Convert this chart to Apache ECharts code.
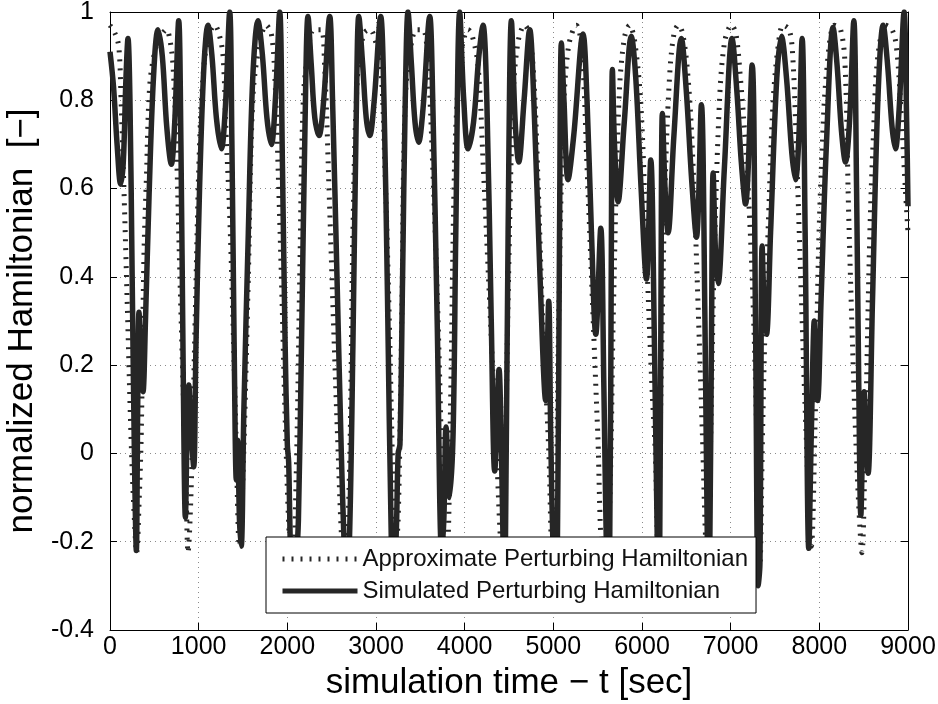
<!DOCTYPE html>
<html>
<head>
<meta charset="utf-8">
<script src="https://cdn.jsdelivr.net/npm/echarts@6/dist/echarts.min.js"></script>
<style>html,body{margin:0;padding:0;background:#fff}#c{width:938px;height:704px}</style>
</head>
<body>
<div id="c"></div>
<script>
// simulated perturbing Hamiltonian: [t (sec), normalized value]
const simT = [0,40,80,120,150,180,203,225,250,275,297,312,327,350,372,400,440,490,541,590,640,692,730,775,800,825,850,870,888,915,944,970,1010,1060,1105,1150,1200,1256,1300,1350,1375,1400,1425,1440,1460,1480,1510,1560,1610,1669,1720,1770,1820,1865,1914,1945,1975,2000,2015,2040,2070,2100,2125,2160,2200,2233,2270,2310,2357,2410,2478,2510,2560,2609,2640,2665,2700,2740,2780,2806,2850,2890,2929,2980,3053,3090,3130,3173,3200,3230,3250,3270,3300,3330,3361,3400,3440,3480,3530,3606,3640,3690,3740,3765,3790,3830,3870,3900,3944,3990,4038,4100,4160,4207,4250,4300,4339,4388,4410,4433,4445,4460,4490,4527,4570,4610,4670,4734,4780,4850,4914,4948,4970,4997,5020,5046,5070,5091,5120,5166,5230,5335,5380,5430,5479,5535,5570,5599,5615,5636,5655,5666,5690,5730,5800,5880,5930,5990,6050,6099,6140,6174,6185,6200,6215,6230,6260,6294,6360,6444,6500,6560,6614,6670,6710,6738,6750,6765,6785,6802,6830,6858,6930,7016,7070,7120,7167,7242,7280,7310,7330,7355,7380,7404,7450,7520,7573,7630,7690,7731,7770,7806,7840,7881,7910,7943,7962,7980,8020,8080,8155,8200,8250,8295,8340,8389,8420,8445,8468,8490,8505,8525,8550,8600,8660,8720,8770,8820,8858,8900,8956,8985,9000];
const simV = [0.91,0.83,0.70,0.61,0.66,0.85,0.94,0.80,0.40,0.0,-0.22,0.10,0.32,0.20,0.14,0.30,0.58,0.85,0.96,0.90,0.74,0.655,0.75,0.98,0.70,0.20,-0.145,0.05,0.155,0.05,-0.03,0.25,0.60,0.88,0.97,0.90,0.76,0.69,0.78,1.0,0.70,0.25,-0.06,0.03,-0.15,-0.21,0.10,0.50,0.85,0.98,0.90,0.76,0.70,0.80,1.0,0.65,0.25,0.02,-0.02,-0.25,-0.32,-0.25,-0.15,0.25,0.75,0.99,0.88,0.76,0.72,0.80,0.99,0.80,0.40,0.0,-0.2,-0.3,-0.2,0.25,0.80,0.99,0.88,0.76,0.72,0.80,0.99,0.80,0.35,-0.2,-0.3,-0.17,0.0,0.02,0.40,0.80,1.0,0.88,0.75,0.705,0.78,0.99,0.80,0.30,-0.22,-0.15,0.06,-0.1,0.05,0.50,1.0,0.80,0.69,0.75,0.90,0.97,0.80,0.30,-0.04,0.19,0.05,-0.2,-0.3,-0.2,0.50,0.98,0.75,0.66,0.80,0.96,0.80,0.40,0.12,0.345,0.05,-0.22,-0.3,-0.2,0.50,0.93,0.80,0.62,0.72,0.95,0.80,0.50,0.27,0.51,0.15,-0.22,-0.3,-0.2,0.50,0.87,0.70,0.57,0.75,0.945,0.85,0.60,0.395,0.665,0.25,-0.22,-0.3,-0.2,0.40,0.77,0.60,0.50,0.72,0.94,0.82,0.62,0.49,0.79,0.30,-0.22,-0.3,-0.2,0.30,0.635,0.45,0.385,0.65,0.94,0.82,0.66,0.565,0.88,0.30,-0.3,-0.25,0.47,0.32,0.27,0.50,0.85,0.945,0.85,0.68,0.62,0.72,0.94,0.50,-0.215,0.05,0.30,0.15,0.12,0.35,0.70,0.965,0.88,0.73,0.66,0.75,0.98,0.60,0.15,-0.14,0.05,0.14,0.05,-0.045,0.35,0.80,0.97,0.88,0.74,0.69,0.78,1.0,0.75,0.56];
// approximate perturbing Hamiltonian
const apxT = [0,60,100,125,160,200,240,275,300,330,353,383,410,447,504,560,636,673,710,748,786,820,855,880,920,960,1010,1060,1120,1180,1230,1275,1310,1350,1390,1420,1460,1500,1560,1610,1680,1762,1820,1860,1900,1940,1980,2030,2060,2100,2140,2180,2240,2300,2380,2420,2470,2520,2570,2620,2650,2700,2740,2790,2860,2930,2970,3050,3100,3150,3190,3220,3250,3290,3330,3400,3460,3530,3580,3640,3700,3740,3770,3800,3840,3880,3920,3970,4040,4080,4150,4210,4280,4360,4420,4450,4490,4545,4600,4677,4730,4780,4830,4880,4950,4990,5020,5060,5110,5170,5260,5320,5380,5440,5500,5560,5620,5680,5740,5800,5860,5920,5990,6050,6110,6150,6180,6210,6260,6310,6360,6410,6460,6520,6570,6630,6680,6730,6770,6810,6870,6930,7010,7060,7110,7160,7210,7260,7300,7330,7360,7390,7430,7480,7540,7592,7660,7700,7740,7790,7850,7910,7950,7990,8030,8080,8170,8240,8290,8330,8390,8440,8480,8520,8570,8610,8660,8750,8820,8870,8920,8970,9000];
const apxV = [0.97,0.95,0.92,0.80,0.58,0.30,0.02,-0.15,-0.225,-0.10,0.05,0.45,0.62,0.83,0.91,0.94,0.96,0.94,0.88,0.70,0.42,0.18,-0.05,-0.225,-0.05,0.30,0.70,0.88,0.95,0.97,0.95,0.90,0.72,0.54,0.28,0.05,-0.21,-0.05,0.40,0.80,0.92,0.97,0.95,0.85,0.62,0.35,0.05,-0.22,-0.25,-0.05,0.40,0.80,0.92,0.96,0.96,0.88,0.60,0.30,0.02,-0.22,-0.25,-0.05,0.50,0.85,0.95,0.96,0.95,0.88,0.65,0.30,-0.05,-0.22,-0.15,0.30,0.80,0.93,0.96,0.96,0.90,0.65,0.30,0.0,-0.22,-0.22,0.10,0.60,0.82,0.92,0.96,0.95,0.88,0.65,0.35,0.0,-0.22,-0.1,0.35,0.80,0.93,0.97,0.95,0.85,0.60,0.30,0.0,-0.22,-0.2,0.30,0.75,0.92,0.97,0.92,0.65,0.35,0.05,-0.22,-0.2,0.35,0.80,0.94,0.97,0.93,0.78,0.46,0.16,0.0,-0.22,0.10,0.60,0.85,0.95,0.97,0.95,0.85,0.68,0.35,0.05,-0.22,0.0,0.40,0.78,0.93,0.97,0.95,0.85,0.72,0.55,0.30,0.0,-0.25,0.05,0.30,0.55,0.80,0.93,0.97,0.96,0.90,0.70,0.40,0.05,-0.21,0.05,0.45,0.68,0.86,0.97,0.96,0.88,0.55,0.15,-0.10,-0.225,0.05,0.50,0.72,0.90,0.97,0.96,0.92,0.78,0.60,0.50];
const xTicks = [0,1000,2000,3000,4000,5000,6000,7000,8000,9000];
const yTicks = [-0.4,-0.2,0,0.2,0.4,0.6,0.8,1];
const seriesNames = ['Approximate Perturbing Hamiltonian','Simulated Perturbing Hamiltonian'];

const font = "'Liberation Sans', Arial, Helvetica, sans-serif";
const ink = '#262626';
const chart = echarts.init(document.getElementById('c'), null, {renderer:'canvas'});
const gridLine = {show:true, lineStyle:{color:'#8a8a8a', width:1, type:[1,4]}};
const baseX = {type:'value', min:xTicks[0], max:xTicks[xTicks.length-1], interval:1000};
const baseY = {type:'value', min:yTicks[0], max:yTicks[yTicks.length-1], interval:0.2};
const boxLine = {show:true, onZero:false, lineStyle:{color:'#000', width:1}};
const boxTick = {show:true, inside:true, length:7, lineStyle:{color:'#000'}};
chart.setOption({
  animation:false,
  backgroundColor:'#fff',
  grid:{left:110, right:30, top:12, bottom:74, show:false, outerBoundsMode:'none', containLabel:false},
  legend:{
    orient:'vertical', left:266, top:537,
    data:seriesNames,
    backgroundColor:'#fff', borderColor:'#000', borderWidth:1, borderRadius:0,
    padding:[10,8,10,14], itemGap:8, itemWidth:75, itemHeight:25,
    itemStyle:{opacity:0},
    lineStyle:{width:5},
    textStyle:{fontFamily:font, fontSize:24, color:'#111'},
    selectedMode:false
  },
  xAxis:[
    Object.assign({}, baseX, {position:'bottom',
      axisLine:boxLine, axisTick:boxTick,
      axisLabel:{show:true, margin:5, fontFamily:font, fontSize:25, color:'#000', formatter:v=>String(v)},
      splitLine:gridLine,
      name:'simulation time \u2212 t [sec]', nameLocation:'middle', nameGap:36,
      nameTextStyle:{fontFamily:font, fontSize:35, color:'#000'}}),
    Object.assign({}, baseX, {position:'top',
      axisLine:boxLine, axisTick:boxTick, axisLabel:{show:false}, splitLine:{show:false}})
  ],
  yAxis:[
    Object.assign({}, baseY, {position:'left',
      axisLine:boxLine, axisTick:boxTick,
      axisLabel:{show:true, margin:16, fontFamily:font, fontSize:25, color:'#000', formatter:v=>String(Math.round(v*10)/10)},
      splitLine:gridLine,
      name:'normalized Hamiltonian  [\u2212]', nameLocation:'middle', nameGap:64, nameRotate:90,
      nameTextStyle:{fontFamily:font, fontSize:35, color:'#000'}}),
    Object.assign({}, baseY, {position:'right',
      axisLine:boxLine, axisTick:boxTick, axisLabel:{show:false}, splitLine:{show:false}})
  ],
  series:[
    {name:seriesNames[0], type:'line', xAxisIndex:0, yAxisIndex:0,
     data:apxT.map((t,i)=>[t, apxV[i]]), showSymbol:false, symbol:'none', smooth:0.35,
     lineStyle:{color:ink, width:5, type:[2,7], cap:'butt'}, itemStyle:{color:ink}, z:2},
    {name:seriesNames[1], type:'line', xAxisIndex:0, yAxisIndex:0,
     data:simT.map((t,i)=>[t, simV[i]]), showSymbol:false, symbol:'none', smooth:0.35,
     lineStyle:{color:ink, width:5.5}, itemStyle:{color:ink}, z:3}
  ]
});
</script>
</body>
</html>
